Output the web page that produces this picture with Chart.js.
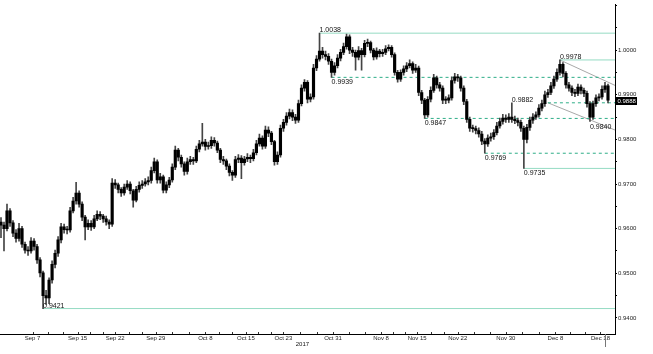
<!DOCTYPE html>
<html>
<head>
<meta charset="utf-8">
<script src="https://cdn.jsdelivr.net/npm/chart.js@4.4.0/dist/chart.umd.min.js"></script>
<style>
  body { margin: 0; background: #fff; }
  canvas { display: block; }
</style>
</head>
<body>
<canvas id="grafico" width="653" height="354"></canvas>
<script>
// velas de ~medio dia (indice = posicion en el eje x)
const firstOpen = 0.9615;
const closes = [
  0.9608,0.9600,0.9640,0.9613,0.9590,0.9578,0.9600,0.9565,0.9552,0.9550,
  0.9572,0.9560,0.9530,0.9501,0.9450,0.9445,0.9485,0.9520,0.9545,0.9575,
  0.9604,0.9598,0.9597,0.9640,0.9662,0.9680,0.9655,0.9626,0.9604,0.9612,
  0.9604,0.9622,0.9632,0.9628,0.9622,0.9615,0.9610,0.9702,0.9698,0.9688,
  0.9680,0.9693,0.9700,0.9685,0.9664,0.9688,0.9697,0.9700,0.9705,0.9708,
  0.9730,0.9750,0.9709,0.9716,0.9686,0.9698,0.9709,0.9738,0.9776,0.9760,
  0.9745,0.9728,0.9750,0.9755,0.9752,0.9778,0.9790,0.9794,0.9784,0.9786,
  0.9798,0.9792,0.9776,0.9755,0.9752,0.9740,0.9726,0.9720,0.9755,0.9758,
  0.9748,0.9756,0.9760,0.9757,0.9770,0.9790,0.9803,0.9785,0.9821,0.9814,
  0.9795,0.9750,0.9765,0.9825,0.9838,0.9852,0.9860,0.9850,0.9843,0.9880,
  0.9915,0.9928,0.9890,0.9895,0.9960,0.9980,0.9998,0.9990,0.9986,0.9975,
  0.9950,0.9965,0.9982,0.9995,1.0008,1.0030,1.0000,0.9995,0.9984,0.9999,
  0.9990,1.0015,1.0017,1.0000,0.9985,0.9998,0.9992,0.9995,1.0003,1.0006,
  0.9990,0.9950,0.9935,0.9950,0.9958,0.9965,0.9970,0.9955,0.9960,0.9905,
  0.9888,0.9855,0.9890,0.9910,0.9938,0.9922,0.9915,0.9888,0.9888,0.9893,
  0.9932,0.9940,0.9938,0.9915,0.9885,0.9845,0.9825,0.9824,0.9820,0.9812,
  0.9796,0.9790,0.9803,0.9806,0.9815,0.9830,0.9840,0.9848,0.9845,0.9850,
  0.9845,0.9842,0.9838,0.9825,0.9800,0.9827,0.9843,0.9850,0.9855,0.9870,
  0.9880,0.9900,0.9905,0.9920,0.9935,0.9950,0.9968,0.9948,0.9922,0.9915,
  0.9905,0.9903,0.9917,0.9910,0.9903,0.9880,0.9850,0.9880,0.9893,0.9895,
  0.9912,0.9920,0.9888
];
const highs = [
  0.9625,0.9615,0.9655,0.9645,0.9618,0.9598,0.9612,0.9605,0.9570,0.9560,
  0.9580,0.9578,0.9565,0.9535,0.9505,0.9462,0.9490,0.9528,0.9552,0.9582,
  0.9612,0.9610,0.9605,0.9648,0.9670,0.9704,0.9685,0.9660,0.9630,0.9620,
  0.9618,0.9630,0.9640,0.9638,0.9632,0.9628,0.9620,0.9712,0.9710,0.9702,
  0.9692,0.9700,0.9708,0.9705,0.9688,0.9695,0.9705,0.9708,0.9712,0.9716,
  0.9738,0.9758,0.9754,0.9724,0.9720,0.9705,0.9715,0.9745,0.9785,0.9780,
  0.9765,0.9750,0.9758,0.9762,0.9760,0.9785,0.9798,0.9836,0.9800,0.9794,
  0.9806,0.9804,0.9796,0.9780,0.9762,0.9756,0.9745,0.9730,0.9762,0.9766,
  0.9764,0.9762,0.9768,0.9765,0.9778,0.9798,0.9812,0.9808,0.9830,0.9828,
  0.9818,0.9798,0.9772,0.9832,0.9845,0.9860,0.9868,0.9866,0.9856,0.9888,
  0.9922,0.9934,0.9932,0.9902,0.9968,0.9988,1.0038,1.0006,0.9998,0.9992,
  0.9980,0.9972,0.9990,1.0002,1.0016,1.0036,1.0034,1.0006,1.0000,1.0008,
  1.0004,1.0022,1.0025,1.0020,1.0004,1.0005,1.0002,1.0002,1.0010,1.0012,
  1.0010,0.9994,0.9955,0.9956,0.9965,0.9972,0.9978,0.9974,0.9968,0.9964,
  0.9910,0.9892,0.9896,0.9918,0.9946,0.9942,0.9928,0.9920,0.9896,0.9900,
  0.9940,0.9948,0.9946,0.9942,0.9920,0.9890,0.9850,0.9832,0.9830,0.9826,
  0.9818,0.9802,0.9810,0.9814,0.9822,0.9838,0.9848,0.9856,0.9855,0.9858,
  0.9882,0.9852,0.9848,0.9843,0.9830,0.9834,0.9850,0.9858,0.9862,0.9878,
  0.9888,0.9908,0.9912,0.9928,0.9942,0.9958,0.9978,0.9972,0.9952,0.9928,
  0.9920,0.9912,0.9924,0.9922,0.9915,0.9908,0.9885,0.9886,0.9900,0.9902,
  0.9920,0.9928,0.9924
];
const lows = [
  0.9580,0.9550,0.9595,0.9605,0.9582,0.9570,0.9572,0.9558,0.9545,0.9540,
  0.9545,0.9552,0.9522,0.9492,0.9421,0.9430,0.9432,0.9478,0.9512,0.9538,
  0.9568,0.9590,0.9588,0.9592,0.9635,0.9655,0.9648,0.9618,0.9575,0.9598,
  0.9596,0.9600,0.9618,0.9620,0.9614,0.9608,0.9600,0.9605,0.9690,0.9680,
  0.9672,0.9675,0.9688,0.9678,0.9648,0.9660,0.9682,0.9690,0.9695,0.9698,
  0.9702,0.9725,0.9702,0.9702,0.9680,0.9680,0.9692,0.9704,0.9732,0.9752,
  0.9738,0.9720,0.9722,0.9744,0.9744,0.9748,0.9772,0.9785,0.9776,0.9778,
  0.9780,0.9785,0.9770,0.9748,0.9744,0.9732,0.9718,0.9708,0.9715,0.9748,
  0.9712,0.9742,0.9750,0.9748,0.9752,0.9765,0.9785,0.9778,0.9780,0.9806,
  0.9788,0.9742,0.9744,0.9760,0.9818,0.9832,0.9846,0.9842,0.9836,0.9838,
  0.9875,0.9908,0.9882,0.9884,0.9890,0.9954,0.9975,0.9982,0.9978,0.9968,
  0.9939,0.9944,0.9960,0.9976,0.9990,1.0002,0.9992,0.9986,0.9955,0.9978,
  0.9955,0.9985,1.0008,0.9994,0.9978,0.9980,0.9985,0.9986,0.9990,0.9998,
  0.9984,0.9944,0.9928,0.9930,0.9944,0.9952,0.9960,0.9948,0.9950,0.9898,
  0.9880,0.9847,0.9850,0.9884,0.9905,0.9915,0.9908,0.9880,0.9880,0.9882,
  0.9888,0.9926,0.9930,0.9908,0.9878,0.9838,0.9818,0.9816,0.9812,0.9805,
  0.9788,0.9769,0.9784,0.9796,0.9800,0.9810,0.9825,0.9834,0.9838,0.9838,
  0.9838,0.9835,0.9830,0.9818,0.9735,0.9792,0.9820,0.9836,0.9845,0.9850,
  0.9864,0.9874,0.9894,0.9900,0.9914,0.9930,0.9944,0.9940,0.9915,0.9908,
  0.9898,0.9896,0.9898,0.9902,0.9896,0.9872,0.9840,0.9845,0.9874,0.9886,
  0.9890,0.9905,0.9882
];

// etiquetas del eje x (posicion en indice de vela)
const dateTicks  = [10.5, 25.5, 38, 51.5, 68, 81.5, 94, 110.5, 126.5, 138.5, 152, 168, 184.5, 199.5];
const dateLabels = ['Sep 7','Sep 15','Sep 22','Sep 29','Oct 8','Oct 15','Oct 23','Oct 31','Nov 8','Nov 15','Nov 22','Nov 30','Dec 8','Dec 18'];
const yearText = '2017';
const yearAt = 100.3;
const priceTicks = [0.94,0.945,0.95,0.955,0.96,0.965,0.97,0.975,0.98,0.985,0.99,0.995,1.0,1.005,1.01];

// niveles horizontales y desde que vela empiezan
const levelValues = [1.0038, 0.9939, 0.9847, 0.9769, 0.9735, 0.9978, 0.9882, 0.9421];
const levelFrom   = [106, 110, 141, 161, 174, 186, 182, 14];

// canal bajista
const chanTopX = [186, 204.33], chanTopY = [0.9978, 0.9921];
const chanLowX = [182, 204.33], chanLowY = [0.9882, 0.9821];

// textos de maximos / minimos
const pivotValues = [1.0038, 0.9939, 0.9847, 0.9769, 0.9735, 0.9882, 0.9978, 0.9840, 0.9421];
const pivotIndex  = [106, 110, 141, 161, 174, 170, 186, 196, 14];

const lastPrice = 0.9888;

// estilos (fuera de los datos)
const levelDashed = [false, true, true, true, false, false, true, false];
const pivotAbove  = [true, false, false, false, false, true, true, false, true];
const FONT = '"Liberation Sans", Arial, sans-serif';
const X_MIN = -0.33, X_MAX = 204.33;

const opens = [firstOpen].concat(closes.slice(0, -1));
const wickData = closes.map((c, i) => ({ x: i, y: [lows[i], highs[i]] }));
const bodyData = closes.map((c, i) => ({ x: i, y: [opens[i], c] }));

const levelSets = levelValues.map((v, k) => ({
  type: 'line',
  data: [{ x: levelFrom[k], y: v }, { x: X_MAX, y: v }],
  borderColor: levelDashed[k] ? '#2fae88' : '#95dbc3',
  borderDash: levelDashed[k] ? [3, 3] : [],
  borderWidth: 1,
  pointRadius: 0,
  order: 3
}));
const channelSets = [[chanTopX, chanTopY], [chanLowX, chanLowY]].map(([xs, ys]) => ({
  type: 'line',
  data: xs.map((x, k) => ({ x: x, y: ys[k] })),
  borderColor: '#a8a8a8',
  borderWidth: 1,
  pointRadius: 0,
  order: 3
}));

// marcas menores entre las fechas
const xTickPositions = [];
dateTicks.forEach((t, k) => {
  xTickPositions.push(t);
  const next = dateTicks[k + 1];
  if (next !== undefined) {
    xTickPositions.push(t + (next - t) / 3, t + 2 * (next - t) / 3);
  }
});

const notas = {
  id: 'notas',
  afterDraw(chart) {
    const { ctx, scales: { x, y }, chartArea } = chart;
    ctx.save();

    // marcas del eje x hacia dentro
    ctx.strokeStyle = '#333';
    ctx.lineWidth = 1;
    ctx.beginPath();
    xTickPositions.forEach(t => {
      const px = Math.round(x.getPixelForValue(t)) + 0.5;
      ctx.moveTo(px, chartArea.bottom);
      ctx.lineTo(px, chartArea.bottom - 2);
    });
    ctx.stroke();

    ctx.font = '7px ' + FONT;
    ctx.fillStyle = '#111';
    ctx.textAlign = 'left';
    ctx.textBaseline = 'alphabetic';
    pivotValues.forEach((v, k) => {
      const px = x.getPixelForValue(pivotIndex[k]);
      const py = y.getPixelForValue(v) + (pivotAbove[k] ? -1 : 7);
      ctx.fillText(v.toFixed(4), px, py);
    });

    // año bajo el eje
    ctx.font = '6px ' + FONT;
    ctx.textAlign = 'center';
    ctx.textBaseline = 'middle';
    ctx.fillText(yearText, x.getPixelForValue(yearAt), 344);

    // marca de la ultima vela bajo el eje
    const lx = Math.round(x.getPixelForValue(closes.length - 2)) + 0.5;
    ctx.strokeStyle = '#777';
    ctx.beginPath();
    ctx.moveTo(lx, chartArea.bottom);
    ctx.lineTo(lx, 347);
    ctx.stroke();

    // caja del ultimo precio
    const py = Math.round(y.getPixelForValue(lastPrice)) + 1;
    const bx = chartArea.right + 1;
    ctx.fillStyle = '#000';
    ctx.fillRect(bx, py - 4, 21, 8);
    ctx.fillStyle = '#fff';
    ctx.textAlign = 'left';
    ctx.fillText(lastPrice.toFixed(4), bx + 1.5, py + 0.5);
    ctx.restore();
  }
};

const ctx = document.getElementById('grafico').getContext('2d');
new Chart(ctx, {
  type: 'bar',
  data: {
    datasets: [
      {
        data: bodyData,
        backgroundColor: '#000',
        barThickness: 2.5,
        minBarLength: 1,
        grouped: false,
        order: 1
      },
      {
        data: wickData,
        backgroundColor: '#444',
        barThickness: 1,
        grouped: false,
        order: 2
      }
    ].concat(levelSets, channelSets)
  },
  options: {
    responsive: false,
    animation: false,
    devicePixelRatio: 1,
    layout: { padding: { left: 0, right: 0, top: 4, bottom: 0 } },
    plugins: { legend: { display: false }, tooltip: { enabled: false } },
    scales: {
      x: {
        type: 'linear',
        min: X_MIN,
        max: X_MAX,
        offset: false,
        afterBuildTicks: (scale) => { scale.ticks = xTickPositions.map(v => ({ value: v })); },
        afterFit: (scale) => { scale.height = 20; },
        grid: { drawOnChartArea: false, drawTicks: false },
        border: { color: '#000', width: 1 },
        ticks: {
          autoSkip: false,
          maxRotation: 0,
          padding: 1,
          color: '#222',
          font: { family: FONT, size: 6 },
          callback: (v) => {
            const k = dateTicks.indexOf(v);
            return k >= 0 ? dateLabels[k] : '';
          }
        }
      },
      y: {
        position: 'right',
        min: 0.9364,
        max: 1.0102,
        afterBuildTicks: (scale) => { scale.ticks = priceTicks.map(v => ({ value: v })); },
        afterFit: (scale) => { scale.width = 38; },
        grid: { drawOnChartArea: false, tickLength: 2, color: '#000' },
        border: { color: '#000', width: 1 },
        ticks: {
          padding: 1,
          color: '#222',
          font: { family: FONT, size: 6 },
          callback: (v) => {
            const cents = Math.round(v * 1000);
            return (cents % 10 === 0 && v < 1.005) ? v.toFixed(4) : '';
          }
        }
      }
    }
  },
  plugins: [notas]
});
</script>
</body>
</html>
